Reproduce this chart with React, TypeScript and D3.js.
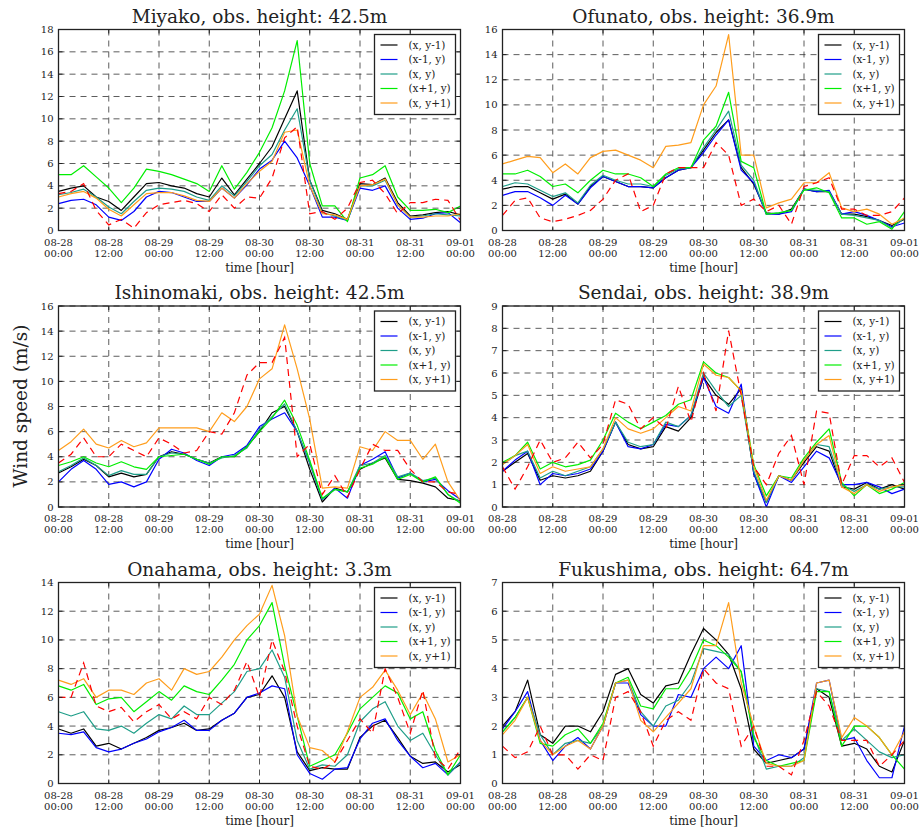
import React from 'react';
import * as d3 from 'd3';

// hours since 08-28 00:00, 3-hourly samples
const hours = [0, 3, 6, 9, 12, 15, 18, 21, 24, 27, 30, 33, 36, 39, 42, 45, 48, 51, 54, 57, 60, 63, 66, 69, 72, 75, 78, 81, 84, 87, 90, 93, 96];

const xTickHours = [0, 12, 24, 36, 48, 60, 72, 84, 96];
const xTickDates = ['08-28', '08-28', '08-29', '08-29', '08-30', '08-30', '08-31', '08-31', '09-01'];
const xTickTimes = ['00:00', '12:00', '00:00', '12:00', '00:00', '12:00', '00:00', '12:00', '00:00'];

const seriesNames = ['(x, y-1)', '(x-1, y)', '(x, y)', '(x+1, y)', '(x, y+1)'];
const seriesColors = ['#000000', '#0000ff', '#1f9e89', '#00ee00', '#ff9d1c'];

// Miyako
const miyakoYm1 = [3.5, 3.8, 4.0, 3.0, 2.6, 1.8, 3.0, 4.2, 4.3, 4.0, 3.8, 3.3, 3.0, 4.7, 3.2, 4.6, 6.0, 7.5, 10.0, 12.5, 4.5, 1.8, 1.5, 1.0, 4.2, 4.1, 4.7, 2.5, 1.3, 1.4, 1.6, 1.7, 1.4];
const miyakoXm1 = [2.4, 2.7, 2.8, 2.3, 1.2, 0.9, 1.7, 3.0, 3.5, 3.4, 3.0, 2.6, 2.6, 3.8, 2.9, 4.1, 5.5, 6.3, 8.0, 6.5, 4.0, 1.2, 1.2, 0.9, 3.8, 3.6, 4.0, 2.0, 1.0, 1.1, 1.5, 1.6, 0.7];
const miyakoXY = [3.2, 3.4, 3.7, 3.0, 2.1, 1.5, 2.6, 3.6, 3.8, 3.7, 3.5, 3.0, 2.7, 4.0, 3.1, 4.4, 5.8, 6.8, 9.0, 10.9, 4.5, 1.6, 1.3, 0.9, 4.0, 4.0, 4.5, 2.3, 1.2, 1.3, 1.5, 1.4, 1.3];
const miyakoXp1 = [5.0, 5.0, 5.8, 4.8, 3.8, 2.5, 3.8, 5.5, 5.3, 5.0, 4.6, 4.2, 3.5, 5.8, 3.7, 5.2, 7.0, 9.2, 12.5, 17.0, 6.0, 2.2, 2.2, 0.8, 4.7, 5.0, 5.8, 3.0, 1.8, 1.8, 1.9, 1.6, 2.2];
const miyakoYp1 = [3.0, 3.3, 3.5, 2.9, 1.9, 1.3, 2.3, 3.3, 3.4, 3.4, 3.1, 2.7, 2.6, 3.8, 2.9, 4.2, 5.3, 6.2, 8.8, 9.0, 4.0, 1.5, 1.4, 1.0, 4.0, 4.1, 4.6, 2.3, 1.2, 1.2, 1.3, 1.3, 1.5];
const miyakoObs = [3.3, 3.5, 4.2, 1.8, 0.5, 1.0, 0.2, 1.6, 2.3, 2.5, 2.7, 2.4, 1.7, 3.2, 2.0, 3.0, 2.9, 4.7, 8.3, 9.3, 1.5, 1.7, 1.0, 2.0, 4.3, 4.5, 3.3, 1.5, 2.5, 2.5, 2.8, 2.7, 0.9];

// Ofunato
const ofunatoYm1 = [3.3, 3.5, 3.5, 3.0, 2.5, 2.9, 2.1, 3.5, 4.3, 3.9, 3.5, 3.5, 3.4, 4.2, 4.8, 5.0, 6.4, 7.8, 8.8, 5.0, 3.7, 1.4, 1.3, 1.7, 3.3, 3.1, 3.1, 1.3, 1.3, 1.1, 0.8, 0.4, 0.9];
const ofunatoXm1 = [2.8, 3.1, 3.1, 2.6, 2.0, 2.8, 2.1, 3.4, 4.3, 3.9, 3.5, 3.5, 3.4, 4.2, 4.8, 5.0, 6.2, 7.6, 8.8, 4.8, 3.8, 1.3, 1.3, 1.5, 3.3, 3.1, 3.2, 1.3, 1.5, 1.2, 0.8, 0.3, 0.6];
const ofunatoXY = [3.5, 3.8, 3.7, 3.2, 2.7, 3.0, 2.2, 3.6, 4.4, 4.0, 3.7, 3.7, 3.5, 4.4, 4.9, 5.0, 6.6, 8.0, 9.5, 5.2, 4.0, 1.3, 1.4, 1.6, 3.3, 3.2, 3.1, 1.3, 1.2, 1.0, 0.8, 0.2, 1.0];
const ofunatoXp1 = [4.5, 4.5, 4.8, 4.3, 3.5, 3.7, 3.0, 4.0, 4.8, 4.5, 4.5, 4.2, 3.5, 4.5, 5.0, 5.0, 7.2, 8.3, 11.0, 5.5, 5.0, 1.3, 1.4, 1.6, 3.2, 3.4, 3.0, 1.0, 1.0, 0.5, 0.7, 0.1, 1.5];
const ofunatoYp1 = [5.3, 5.6, 5.9, 5.8, 4.6, 5.3, 4.5, 5.8, 6.3, 6.4, 6.0, 5.6, 5.0, 6.7, 6.8, 7.0, 10.0, 11.5, 15.6, 6.0, 6.0, 1.8, 2.2, 2.5, 3.8, 3.8, 4.6, 1.8, 1.5, 1.7, 1.3, 0.5, 1.0];
const ofunatoObs = [1.2, 2.4, 2.6, 1.0, 0.7, 0.9, 1.2, 1.6, 2.5, 4.0, 4.5, 1.5, 2.0, 4.5, 5.0, 5.0, 5.0, 7.0, 6.0, 2.0, 2.5, 1.5, 2.0, 0.5, 3.5, 3.8, 4.2, 1.7, 1.7, 1.2, 1.2, 1.5, 2.6];

// Ishinomaki
const ishinomakiYm1 = [2.7, 3.2, 3.8, 3.3, 2.4, 2.7, 2.4, 2.6, 4.0, 4.4, 4.2, 3.8, 3.5, 4.0, 4.0, 4.8, 6.0, 7.5, 8.0, 6.0, 3.0, 0.4, 1.5, 1.2, 3.0, 3.5, 3.9, 2.2, 2.1, 1.9, 1.6, 0.7, 0.5];
const ishinomakiXm1 = [2.0, 3.0, 3.7, 3.0, 1.8, 2.0, 1.6, 2.0, 3.8, 4.6, 4.3, 3.7, 3.3, 4.0, 4.2, 4.9, 6.4, 7.0, 7.5, 6.0, 3.5, 0.6, 1.5, 0.7, 3.3, 3.8, 4.4, 2.3, 2.7, 2.0, 2.2, 1.3, 0.6];
const ishinomakiXY = [2.8, 3.3, 3.9, 3.3, 2.5, 2.9, 2.6, 2.6, 4.0, 4.3, 4.2, 3.8, 3.5, 3.9, 4.1, 4.7, 6.2, 7.2, 8.2, 6.0, 3.5, 0.6, 1.4, 1.2, 3.3, 3.5, 4.1, 2.4, 2.7, 2.1, 2.3, 1.0, 0.4];
const ishinomakiXp1 = [3.3, 3.6, 4.0, 3.5, 3.2, 3.6, 3.2, 3.0, 4.0, 4.1, 4.2, 3.8, 3.4, 4.0, 4.0, 4.8, 6.0, 7.1, 8.5, 6.5, 3.7, 0.7, 1.4, 1.2, 3.1, 3.4, 4.0, 2.2, 2.6, 2.0, 2.4, 1.0, 0.3];
const ishinomakiYp1 = [4.5, 5.2, 6.2, 5.0, 4.7, 5.3, 4.8, 5.1, 6.3, 6.3, 6.3, 6.3, 6.0, 7.5, 6.8, 8.0, 10.2, 11.0, 14.5, 11.0, 7.0, 1.5, 1.6, 1.5, 4.8, 4.5, 6.0, 5.3, 5.3, 3.8, 5.0, 2.0, 0.5];
const ishinomakiObs = [3.5, 4.2, 5.5, 4.0, 4.0, 5.0, 4.5, 4.0, 5.5, 5.0, 4.3, 4.5, 6.0, 5.8, 7.5, 10.5, 11.5, 11.5, 13.5, 4.0, 5.0, 1.0, 2.5, 0.8, 3.0, 5.0, 4.5, 4.5, 3.0, 2.0, 2.0, 1.2, 1.0];

// Sendai
const sendaiYm1 = [1.6, 2.0, 2.4, 1.2, 1.4, 1.3, 1.4, 1.6, 2.5, 3.8, 2.8, 2.6, 2.7, 3.6, 3.4, 4.0, 5.8, 5.0, 4.6, 5.3, 1.5, 0.2, 1.4, 1.2, 2.0, 2.7, 2.5, 0.9, 0.8, 1.1, 0.8, 1.0, 0.8];
const sendaiXm1 = [1.6, 2.1, 2.5, 1.0, 1.5, 1.4, 1.5, 1.7, 2.5, 3.8, 2.7, 2.6, 2.8, 3.7, 3.6, 4.1, 5.8, 4.5, 4.2, 5.5, 1.5, 0.0, 1.4, 1.1, 1.8, 2.5, 2.2, 1.0, 1.0, 1.1, 0.9, 0.6, 0.8];
const sendaiXY = [1.9, 2.3, 2.5, 1.3, 1.6, 1.4, 1.6, 1.8, 2.6, 3.8, 2.9, 2.7, 2.8, 3.8, 3.6, 4.1, 6.0, 5.2, 4.5, 5.0, 1.6, 0.2, 1.4, 1.2, 2.1, 2.8, 2.7, 1.0, 0.7, 1.0, 0.8, 0.9, 0.9];
const sendaiXp1 = [2.0, 2.3, 2.9, 1.7, 2.0, 1.8, 1.9, 2.1, 3.0, 4.2, 3.8, 3.5, 3.8, 4.1, 4.6, 4.8, 6.5, 6.0, 5.8, 5.2, 1.9, 0.5, 1.4, 1.3, 2.2, 2.9, 3.5, 1.1, 0.5, 1.0, 0.6, 0.8, 1.1];
const sendaiYp1 = [1.9, 2.3, 2.8, 1.5, 1.8, 1.6, 1.7, 1.8, 2.6, 4.0, 3.5, 3.3, 3.5, 4.0, 4.5, 4.3, 6.4, 5.9, 5.8, 5.2, 1.8, 0.3, 1.4, 1.2, 2.1, 2.8, 3.2, 0.9, 0.6, 1.0, 0.7, 0.9, 1.0];
const sendaiObs = [1.8, 0.8, 1.8, 3.0, 2.0, 2.2, 2.9, 2.2, 2.8, 4.8, 4.6, 3.5, 4.0, 3.5, 5.4, 3.8, 6.0, 4.3, 7.9, 5.0, 1.8, 1.0, 2.4, 3.2, 1.0, 4.3, 4.2, 1.0, 2.3, 2.3, 1.8, 2.2, 1.1];

// Onahama
const onahamaYm1 = [3.8, 3.5, 3.8, 2.6, 2.8, 2.4, 2.8, 3.2, 3.7, 3.9, 4.2, 3.7, 3.8, 4.4, 4.9, 6.0, 6.2, 7.5, 6.0, 2.2, 0.9, 1.1, 1.0, 1.0, 3.2, 4.0, 4.4, 3.2, 1.9, 1.4, 1.5, 0.8, 1.3];
const onahamaXm1 = [3.5, 3.4, 3.6, 2.5, 2.2, 2.4, 2.8, 3.1, 3.6, 3.9, 4.4, 3.7, 3.7, 4.4, 4.9, 6.0, 6.3, 6.8, 6.6, 2.0, 0.7, 0.3, 1.0, 1.1, 3.1, 4.2, 4.5, 3.0, 1.9, 1.1, 1.4, 0.6, 1.5];
const onahamaXY = [5.0, 4.7, 5.0, 3.8, 3.7, 4.0, 3.5, 4.2, 4.8, 4.5, 5.4, 4.8, 4.8, 5.6, 6.4, 7.8, 8.0, 9.3, 7.4, 3.0, 1.0, 1.3, 1.2, 2.0, 4.3, 5.2, 5.7, 4.0, 3.0, 3.5, 2.0, 0.6, 1.5];
const onahamaXp1 = [6.8, 6.5, 6.9, 5.5, 5.9, 6.0, 5.0, 5.7, 6.4, 5.8, 6.8, 6.4, 6.2, 7.2, 8.3, 10.0, 11.0, 12.6, 8.2, 4.7, 1.2, 1.6, 2.0, 3.5, 5.2, 6.0, 6.8, 6.3, 4.5, 5.0, 2.3, 0.6, 2.0];
const onahamaYp1 = [7.2, 6.9, 7.3, 6.0, 6.5, 6.5, 6.2, 7.0, 7.3, 6.5, 8.0, 7.6, 7.8, 8.8, 10.0, 11.0, 11.8, 13.8, 10.3, 4.7, 2.5, 2.3, 1.5, 3.6, 6.0, 6.7, 7.9, 6.5, 4.8, 6.3, 4.5, 1.5, 2.0];
const onahamaObs = [6.0, 6.0, 8.4, 5.4, 5.0, 5.3, 4.3, 5.0, 5.5, 4.5, 5.0, 4.5, 6.0, 5.5, 6.5, 8.5, 6.0, 10.0, 7.8, 4.0, 1.2, 1.0, 1.5, 3.0, 4.5, 3.5, 8.0, 6.0, 3.5, 6.5, 1.8, 1.0, 2.4];

// Fukushima
const fukushimaYm1 = [2.0, 2.5, 3.6, 1.7, 1.4, 2.0, 2.0, 1.8, 2.5, 3.8, 4.0, 3.1, 2.8, 3.4, 3.5, 4.5, 5.4, 5.0, 4.5, 3.3, 1.2, 0.7, 0.8, 0.9, 1.2, 3.3, 3.0, 1.3, 1.4, 1.2, 0.6, 0.4, 1.5];
const fukushimaXm1 = [1.9, 2.5, 3.2, 1.5, 0.8, 1.3, 1.6, 1.2, 2.0, 3.5, 3.5, 2.4, 2.0, 2.0, 3.1, 3.0, 4.0, 4.4, 4.0, 4.8, 1.3, 0.8, 1.0, 0.9, 1.2, 3.5, 3.6, 1.5, 1.6, 0.8, 0.2, 0.2, 2.0];
const fukushimaXY = [1.8, 2.3, 3.0, 1.7, 1.0, 1.4, 1.5, 1.4, 2.0, 3.5, 3.6, 2.5, 2.0, 2.7, 2.9, 3.5, 4.7, 4.6, 4.5, 3.9, 1.7, 0.5, 0.6, 0.6, 0.9, 3.3, 3.2, 1.5, 1.9, 1.5, 1.1, 0.9, 1.0];
const fukushimaXp1 = [1.8, 2.3, 3.0, 1.4, 1.3, 1.7, 1.9, 1.4, 2.1, 3.5, 3.7, 2.7, 2.6, 3.3, 3.3, 4.0, 5.0, 4.8, 4.4, 3.9, 1.6, 0.8, 0.6, 0.7, 0.8, 3.2, 3.2, 1.3, 2.0, 2.0, 1.6, 1.0, 0.5];
const fukushimaYp1 = [1.7, 2.2, 3.0, 1.5, 1.0, 1.3, 1.5, 1.2, 2.0, 3.5, 3.6, 2.2, 1.8, 2.3, 2.8, 3.3, 4.8, 4.8, 6.3, 3.5, 2.0, 0.7, 0.6, 0.6, 0.8, 3.5, 3.6, 1.6, 2.3, 2.0, 1.6, 1.0, 1.8];
const fukushimaObs = [1.3, 0.9, 1.1, 2.0, 1.0, 1.0, 0.5, 1.0, 0.8, 3.0, 3.2, 2.5, 1.3, 2.2, 2.5, 2.2, 4.0, 3.5, 3.3, 1.3, 2.0, 0.6, 0.6, 0.3, 1.5, 3.2, 2.7, 1.5, 1.5, 1.5, 0.6, 1.0, 1.5];

const stations = [
  { title: 'Miyako, obs. height: 42.5m', yMax: 18, yStep: 2, models: [miyakoYm1, miyakoXm1, miyakoXY, miyakoXp1, miyakoYp1], obs: miyakoObs },
  { title: 'Ofunato, obs. height: 36.9m', yMax: 16, yStep: 2, models: [ofunatoYm1, ofunatoXm1, ofunatoXY, ofunatoXp1, ofunatoYp1], obs: ofunatoObs },
  { title: 'Ishinomaki, obs. height: 42.5m', yMax: 16, yStep: 2, models: [ishinomakiYm1, ishinomakiXm1, ishinomakiXY, ishinomakiXp1, ishinomakiYp1], obs: ishinomakiObs },
  { title: 'Sendai, obs. height: 38.9m', yMax: 9, yStep: 1, models: [sendaiYm1, sendaiXm1, sendaiXY, sendaiXp1, sendaiYp1], obs: sendaiObs },
  { title: 'Onahama, obs. height: 3.3m', yMax: 14, yStep: 2, models: [onahamaYm1, onahamaXm1, onahamaXY, onahamaXp1, onahamaYp1], obs: onahamaObs },
  { title: 'Fukushima, obs. height: 64.7m', yMax: 7, yStep: 1, models: [fukushimaYm1, fukushimaXm1, fukushimaXY, fukushimaXp1, fukushimaYp1], obs: fukushimaObs },
];

const colX = [58.5, 502.5];
const rowY = [29.5, 306, 582.5];
const W = 402;
const H = 201;
const FONT = 'DejaVu Serif, serif';

const Panel = ({ s, idx }) => {
  const left = colX[idx % 2];
  const top = rowY[Math.floor(idx / 2)];
  const x = d3.scaleLinear().domain([0, 96]).range([0, W]);
  const y = d3.scaleLinear().domain([0, s.yMax]).range([H, 0]);
  const yTicks = d3.range(0, s.yMax + 0.001, s.yStep);
  const line = d3.line<number>().x((d, i) => x(hours[i])).y(d => y(d));
  const clipId = `clip-${idx}`;

  return (
    <g transform={`translate(${left},${top})`}>
      <defs>
        <clipPath id={clipId}><rect x={0} y={0} width={W} height={H} /></clipPath>
      </defs>
      <rect x={0} y={0} width={W} height={H} fill="#fff" />
      {/* grid */}
      {xTickHours.map(h => (
        <line key={'gx' + h} x1={x(h)} x2={x(h)} y1={0} y2={H} stroke="#333" strokeWidth={0.8} strokeDasharray="6,5" />
      ))}
      {yTicks.map(t => (
        <line key={'gy' + t} x1={0} x2={W} y1={y(t)} y2={y(t)} stroke="#333" strokeWidth={0.8} strokeDasharray="6,5" />
      ))}
      <g clipPath={`url(#${clipId})`}>
        {s.models.map((m, i) => (
          <path key={i} d={line(m)} fill="none" stroke={seriesColors[i]} strokeWidth={1.2} strokeLinejoin="round" />
        ))}
        <path d={line(s.obs)} fill="none" stroke="#ff0000" strokeWidth={1.2} strokeDasharray="7,5" />
      </g>
      <rect x={0} y={0} width={W} height={H} fill="none" stroke="#222" strokeWidth={1.3} />
      {/* inward ticks */}
      {xTickHours.map(h => (
        <g key={'tx' + h}>
          <line x1={x(h)} x2={x(h)} y1={H} y2={H - 4} stroke="#222" />
          <line x1={x(h)} x2={x(h)} y1={0} y2={4} stroke="#222" />
        </g>
      ))}
      {yTicks.map(t => (
        <g key={'ty' + t}>
          <line x1={0} x2={4} y1={y(t)} y2={y(t)} stroke="#222" />
          <line x1={W} x2={W - 4} y1={y(t)} y2={y(t)} stroke="#222" />
        </g>
      ))}
      {/* tick labels */}
      {yTicks.map(t => (
        <text key={'ly' + t} x={-5} y={y(t)} dy="0.35em" textAnchor="end" fontSize={10} fontFamily={FONT} fill="#222">{t}</text>
      ))}
      {xTickHours.map((h, i) => (
        <text key={'lx' + h} x={x(h)} y={H + 15} textAnchor="middle" fontSize={10} fontFamily={FONT} fill="#222">
          <tspan x={x(h)}>{xTickDates[i]}</tspan>
          <tspan x={x(h)} dy={11}>{xTickTimes[i]}</tspan>
        </text>
      ))}
      <text x={W / 2} y={H + 41} textAnchor="middle" fontSize={12} fontFamily={FONT} fill="#222">time [hour]</text>
      <text x={W / 2} y={-7} textAnchor="middle" fontSize={18.5} fontFamily={FONT} fill="#222">{s.title}</text>
      {/* legend */}
      <g transform={`translate(${W - 86},5)`}>
        <rect x={0} y={0} width={81} height={80} fill="#fff" stroke="#222" strokeWidth={1.3} />
        {seriesNames.map((n, i) => (
          <g key={n} transform={`translate(0,${10.5 + i * 14.5})`}>
            <line x1={6} x2={23} y1={0} y2={0} stroke={seriesColors[i]} strokeWidth={1.2} />
            <text x={34} y={0} dy="0.35em" fontSize={10.5} fontFamily={FONT} fill="#222">{n}</text>
          </g>
        ))}
      </g>
    </g>
  );
};

const App = () => (
  <svg width={923} height={829} style={{ position: 'absolute', left: 0, top: 0, background: '#fff' }}>
    <rect width={923} height={829} fill="#fff" />
    {stations.map((s, i) => <Panel key={s.title} s={s} idx={i} />)}
    <text transform="translate(27,406) rotate(-90)" textAnchor="middle" fontSize={18.5} fontFamily={FONT} fill="#222">Wind speed (m/s)</text>
  </svg>
);

export default App;
